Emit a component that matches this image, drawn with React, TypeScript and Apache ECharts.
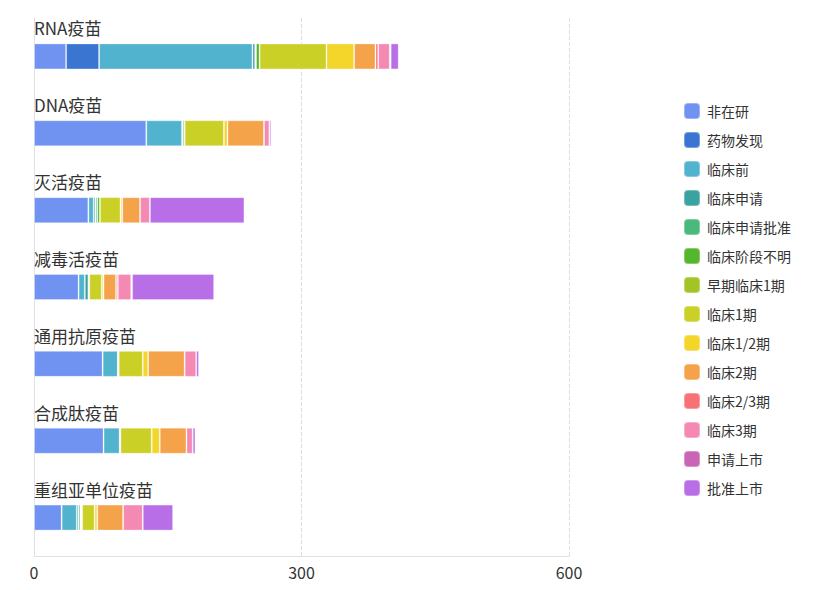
import React, { useEffect, useRef } from "react";
import * as echarts from "echarts";

const categories = ["RNA疫苗", "DNA疫苗", "灭活疫苗", "减毒活疫苗", "通用抗原疫苗", "合成肽疫苗", "重组亚单位疫苗"];

const stages = [
  "非在研", "药物发现", "临床前", "临床申请", "临床申请批准", "临床阶段不明", "早期临床1期",
  "临床1期", "临床1/2期", "临床2期", "临床2/3期", "临床3期", "申请上市", "批准上市",
];

const stageColors = [
  "#7093f2", "#3a76d1", "#52b3ce", "#3aa2a0", "#4ab97c", "#55b62b", "#a3c424",
  "#cbd026", "#f4d52a", "#f5a34b", "#f67274", "#f48ab4", "#c965b4", "#b76ee6",
];

// values per stage, ordered like categories
const nonActive = [36, 126, 61, 50, 77, 78, 31];
const drugDiscovery = [37, 0, 0, 0, 0, 0, 0];
const preclinical = [172, 40, 6, 7, 17, 18, 17];
const clinicalApplication = [3, 1, 2, 4, 0, 0, 2];
const clinicalApproved = [1, 0, 2, 1, 0, 0, 2];
const clinicalUnknown = [4, 2, 3, 0, 1, 1, 1];
const earlyPhase1 = [0, 0, 0, 0, 0, 0, 1];
const phase1 = [75, 44, 23, 14, 27, 35, 14];
const phase1_2 = [31, 4, 2, 2, 6, 9, 3];
const phase2 = [24, 41, 20, 14, 41, 30, 29];
const phase2_3 = [3, 0, 0, 2, 0, 0, 0];
const phase3 = [13, 6, 11, 15, 13, 7, 22];
const marketApplication = [1, 0, 0, 1, 0, 0, 0];
const approved = [9, 2, 106, 92, 3, 3, 34];

const stageValues = [
  nonActive, drugDiscovery, preclinical, clinicalApplication, clinicalApproved, clinicalUnknown, earlyPhase1,
  phase1, phase1_2, phase2, phase2_3, phase3, marketApplication, approved,
];

const xTicks = [0, 300, 600];

export default function App() {
  const ref = useRef<HTMLDivElement>(null);
  useEffect(() => {
    if (!ref.current) return;
    const chart = echarts.init(ref.current, null, { renderer: "svg" });
    chart.setOption({
      animation: false,
      color: stageColors,
      grid: { left: 34, right: 263, top: 18, bottom: 34, containLabel: false },
      legend: {
        orient: "vertical",
        left: 683,
        top: 102,
        padding: 0,
        icon: "roundRect",
        itemWidth: 16,
        itemHeight: 16,
        itemGap: 11,
        data: stages,
        textStyle: { fontSize: 14, color: "#333", fontFamily: "Noto Sans CJK SC", padding: [0, 0, 0, 2] },
      },
      xAxis: {
        type: "value",
        min: xTicks[0],
        max: xTicks[xTicks.length - 1],
        interval: xTicks[1] - xTicks[0],
        axisLine: { show: true, lineStyle: { color: "#e0e0e6" } },
        axisTick: { show: false },
        splitLine: { show: true, lineStyle: { type: "dashed", color: "#dcdcdc" } },
        axisLabel: { fontSize: 16, color: "#333", margin: 8, fontFamily: "Noto Sans CJK SC" },
      },
      yAxis: {
        type: "category",
        data: categories,
        inverse: true,
        axisLine: { show: true, lineStyle: { color: "#e0e0e6" } },
        axisTick: { show: false },
        axisLabel: {
          inside: true,
          margin: 0,
          verticalAlign: "bottom",
          padding: [0, 0, 20, 0],
          fontSize: 17,
          color: "#333",
          fontFamily: "Noto Sans CJK SC",
        },
      },
      series: stages.map((name, i) => ({
        name,
        type: "bar",
        stack: "total",
        barWidth: 26,
        data: stageValues[i],
        itemStyle: { borderWidth: 1, borderColor: "rgba(255,255,255,0.3)" },
      })),
    });
    return () => chart.dispose();
  }, []);
  return (
    <div
      ref={ref}
      style={{ position: "fixed", left: 0, top: 0, width: 832, height: 590, background: "#fff" }}
    />
  );
}
